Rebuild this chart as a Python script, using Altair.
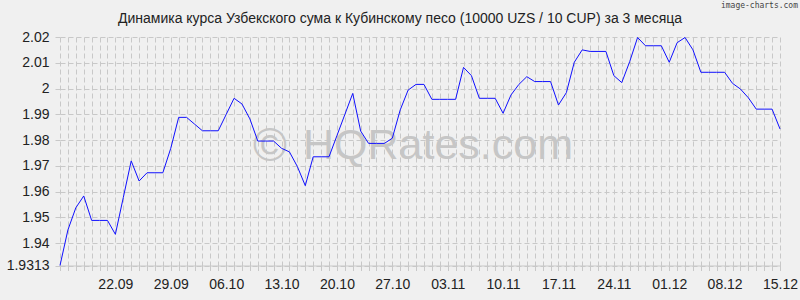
import altair as alt
import pandas as pd

# ---- data ----
start_date = "2025-09-15"
rates = [
    1.9313, 1.9451, 1.9537, 1.9583, 1.9488, 1.9488, 1.9488, 1.9434, 1.9577, 1.9719,
    1.9641, 1.9673, 1.9673, 1.9673, 1.9768, 1.9888, 1.9888, 1.9862, 1.9836, 1.9836,
    1.9836, 1.9899, 1.9962, 1.9940, 1.9882, 1.9796, 1.9796, 1.9796, 1.9768, 1.9754,
    1.9697, 1.9623, 1.9735, 1.9735, 1.9735, 1.9817, 1.9899, 1.9981, 1.9835, 1.9787,
    1.9787, 1.9787, 1.9807, 1.9917, 1.9994, 2.0016, 2.0016, 1.9958, 1.9958, 1.9958,
    1.9958, 2.0082, 2.0050, 1.9962, 1.9962, 1.9962, 1.9904, 1.9975, 2.0016, 2.0046,
    2.0027, 2.0027, 2.0027, 1.9936, 1.9984, 2.0102, 2.0150, 2.0144, 2.0144, 2.0144,
    2.0050, 2.0023, 2.0104, 2.0198, 2.0166, 2.0166, 2.0166, 2.0102, 2.0178, 2.0198,
    2.0150, 2.0063, 2.0063, 2.0063, 2.0063, 2.0020, 1.9998, 1.9964, 1.9920, 1.9920,
    1.9920, 1.9843,
]
x_tick_labels = ["22.09", "29.09", "06.10", "13.10", "20.10", "27.10", "03.11",
                 "10.11", "17.11", "24.11", "01.12", "08.12", "15.12"]
y_tick_values = [1.9313, 1.94, 1.95, 1.96, 1.97, 1.98, 1.99, 2.0, 2.01, 2.02]
y_domain = [1.9313, 2.02]
title_text = ["Динамика курса Узбекского сума к Кубинскому песо (10000 UZS / 10 CUP) за 3 месяца"]
credit_text = ["image-charts.com"]
copyright_text = ["©"]
watermark_text = ["HQRates.com"]

dates = pd.date_range(start_date, periods=len(rates), freq="D")
df = pd.DataFrame({"date": dates, "rate": rates})

d0, d1 = dates[0], dates[-1]
x_domain = [alt.DateTime(year=d0.year, month=d0.month, date=d0.day),
            alt.DateTime(year=d1.year, month=d1.month, date=d1.day)]

FONT = "Liberation Sans"
GRID = "#c8c8c8"
BG = "#f0f0f0"

label_list = ",".join("'" + s + "'" for s in x_tick_labels)
x_label_expr = ("indexof([" + label_list + "], timeFormat(datum.value, '%d.%m')) >= 0 "
                "? timeFormat(datum.value, '%d.%m') : ''")

x_enc = alt.X(
    "date:T",
    scale=alt.Scale(domain=x_domain, nice=False),
    axis=alt.Axis(
        title=None,
        tickCount={"interval": "day", "step": 1},
        labelExpr=x_label_expr,
        labelOverlap=False,
        labelFlush=False,
        labelFont=FONT,
        labelFontSize=14,
        labelColor="#222222",
        labelPadding=4,
        grid=True,
        gridColor=GRID,
        gridDash=[5, 3],
        gridWidth=1,
        tickColor=GRID,
        tickDash=[5, 3],
        tickSize=8,
        domainColor=GRID,
    ),
)
y_enc = alt.Y(
    "rate:Q",
    scale=alt.Scale(domain=y_domain, nice=False, zero=False),
    axis=alt.Axis(
        title=None,
        values=y_tick_values,
        labelExpr="'' + datum.value",
        labelFlush=False,
        labelFont=FONT,
        labelFontSize=14,
        labelColor="#222222",
        labelPadding=3,
        grid=True,
        gridColor=GRID,
        gridDash=[5, 3],
        gridWidth=1,
        tickColor=GRID,
        tickDash=[5, 3],
        tickSize=8,
        domain=False,
    ),
)

line = alt.Chart(df).mark_line(color="#1010ff", strokeWidth=1).encode(x=x_enc, y=y_enc)

copyright_mark = alt.Chart(pd.DataFrame({"t": copyright_text})).mark_text(
    font=FONT, fontSize=46, color="#c6c6c6", align="center", baseline="middle"
).encode(text="t:N", x=alt.value(210), y=alt.value(110))

watermark = alt.Chart(pd.DataFrame({"t": watermark_text})).mark_text(
    font=FONT, fontSize=43, color="#c6c6c6", align="left", baseline="alphabetic"
).encode(text="t:N", x=alt.value(243), y=alt.value(122))

title = alt.Chart(pd.DataFrame({"t": title_text})).mark_text(
    font=FONT, fontSize=14, color="#222222", align="center", baseline="alphabetic"
).encode(text="t:N", x=alt.value(340), y=alt.value(-14))

credit = alt.Chart(pd.DataFrame({"t": credit_text})).mark_text(
    font="DejaVu Sans Mono", fontSize=8, color="#444444", align="right", baseline="alphabetic"
).encode(text="t:N", x=alt.value(738), y=alt.value(-29))

chart = alt.layer(copyright_mark, watermark, line, title, credit).properties(
    width=720,
    height=228.5,
    autosize=alt.AutoSizeParams(type="none"),
    padding={"left": 60, "top": 37, "right": 20, "bottom": 34.5},
    background=BG,
).configure_view(stroke=None)

chart.save("out.html", embed_options={"renderer": "svg", "actions": False})
